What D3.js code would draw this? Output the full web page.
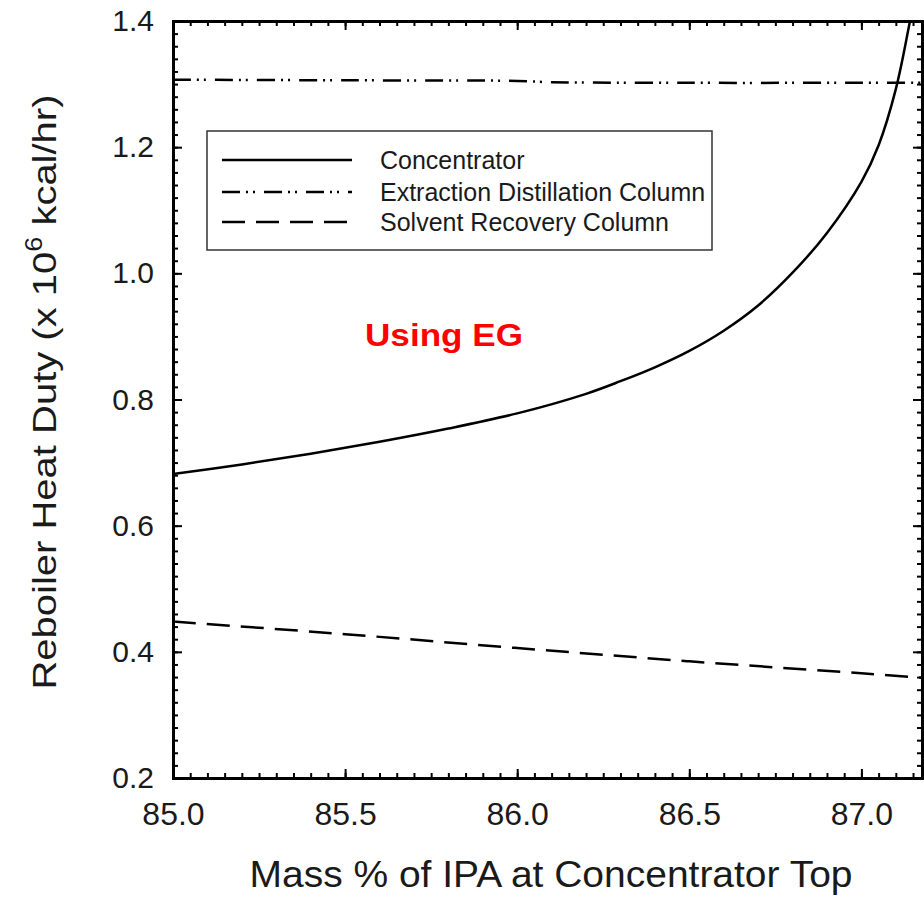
<!DOCTYPE html>
<html>
<head>
<meta charset="utf-8">
<script src="https://cdn.jsdelivr.net/npm/d3@7"></script>
<style>
  body { margin: 0; background: #fff; }
  svg { display: block; }
  text { font-family: "Liberation Sans", Arial, sans-serif; fill: #1a1a1a; }
</style>
</head>
<body>
<svg id="chart" width="924" height="897"></svg>
<script>
// data
var concX = [85.0, 85.2, 85.4, 85.6, 85.8, 86.0, 86.2, 86.3, 86.4, 86.5, 86.6, 86.7, 86.8, 86.9, 87.0, 87.05, 87.1, 87.14, 87.17];
var concY = [0.682, 0.697, 0.714, 0.733, 0.754, 0.778, 0.809, 0.829, 0.851, 0.877, 0.909, 0.949, 1.001, 1.064, 1.145, 1.203, 1.292, 1.397, 1.49];
var edcX = [85.0, 85.5, 86.0, 86.1, 86.5, 87.0, 87.2];
var edcY = [1.307, 1.306, 1.305, 1.303, 1.302, 1.302, 1.302];
var srcX = [85.0, 85.5, 86.0, 86.5, 87.0, 87.2];
var srcY = [0.448, 0.428, 0.406, 0.385, 0.366, 0.358];
var xTicks = [85.0, 85.5, 86.0, 86.5, 87.0];
var yTicks = [0.2, 0.4, 0.6, 0.8, 1.0, 1.2, 1.4];
var seriesNames = ["Concentrator", "Extraction Distillation Column", "Solvent Recovery Column"];

var svg = d3.select("#chart");
var plotL = 173, plotR = 922, plotT = 21, plotB = 778;

var x = d3.scaleLinear().domain([85, 85 + (plotR - plotL) / 344.2]).range([plotL, plotR]);
var y = d3.scaleLinear().domain([0.2, 1.4]).range([plotB, plotT]);

svg.append("clipPath").attr("id", "plotClip")
	.append("rect").attr("x", plotL).attr("y", plotT).attr("width", plotR - plotL).attr("height", plotB - plotT);

var dashes = ["none", "18,6,2,5,2,9", "23,11"];

var line = d3.line().curve(d3.curveCatmullRom.alpha(0.5));
var plot = svg.append("g").attr("clip-path", "url(#plotClip)");

function drawSeries(xs, ys, i){
	var pts = xs.map(function(v, k){ return [x(v), y(ys[k])]; });
	plot.append("path")
		.attr("d", line(pts))
		.attr("fill", "none")
		.attr("stroke", "#000")
		.attr("stroke-width", 2.5)
		.attr("stroke-dasharray", dashes[i]);
}
drawSeries(concX, concY, 0);
drawSeries(edcX, edcY, 1);
drawSeries(srcX, srcY, 2);

// axes - ticks point inward on all four sides
var xMinor = d3.range(85, 87.2, 0.05);
var yMinor = d3.range(0.2, 1.401, 0.02);

svg.append("g").attr("transform", "translate(0," + plotB + ")")
	.call(d3.axisBottom(x).tickValues(xMinor).tickSize(-5).tickFormat(""));
svg.append("g").attr("transform", "translate(0," + plotB + ")")
	.call(d3.axisBottom(x).tickValues(xTicks).tickSize(-9).tickPadding(24).tickFormat(d3.format(".1f")))
	.call(function(g){ g.selectAll("text").attr("font-size", 32).attr("font-family", "Liberation Sans, Arial").attr("fill", "#1a1a1a"); });
svg.append("g").attr("transform", "translate(0," + plotT + ")")
	.call(d3.axisTop(x).tickValues(xMinor).tickSize(-5).tickFormat(""));
svg.append("g").attr("transform", "translate(0," + plotT + ")")
	.call(d3.axisTop(x).tickValues(xTicks).tickSize(-9).tickFormat(""));

svg.append("g").attr("transform", "translate(" + plotL + ",0)")
	.call(d3.axisLeft(y).tickValues(yMinor).tickSize(-5).tickFormat(""));
svg.append("g").attr("transform", "translate(" + plotL + ",0)")
	.call(d3.axisLeft(y).tickValues(yTicks).tickSize(-9).tickPadding(19).tickFormat(d3.format(".1f")))
	.call(function(g){ g.selectAll("text").attr("font-size", 30).attr("font-family", "Liberation Sans, Arial").attr("fill", "#1a1a1a"); });
svg.append("g").attr("transform", "translate(" + plotR + ",0)")
	.call(d3.axisRight(y).tickValues(yMinor).tickSize(-5).tickFormat(""));
svg.append("g").attr("transform", "translate(" + plotR + ",0)")
	.call(d3.axisRight(y).tickValues(yTicks).tickSize(-9).tickFormat(""));

svg.selectAll(".domain").attr("stroke", "#000").attr("stroke-width", 3);
svg.selectAll(".tick line").attr("stroke", "#000").attr("stroke-width", 2);

// axis titles
svg.append("text")
	.attr("x", 551).attr("y", 887)
	.attr("text-anchor", "middle")
	.attr("font-size", 36)
	.attr("textLength", 603).attr("lengthAdjust", "spacingAndGlyphs")
	.text("Mass % of IPA at Concentrator Top");

var yt = svg.append("text")
	.attr("transform", "translate(56,392) rotate(-90)")
	.attr("text-anchor", "middle")
	.attr("font-size", 34)
	.attr("textLength", 595).attr("lengthAdjust", "spacingAndGlyphs");
yt.append("tspan").text("Reboiler Heat Duty (x 10");
yt.append("tspan").attr("font-size", 23).attr("dy", -14).text("6");
yt.append("tspan").attr("dy", 14).text(" kcal/hr)");

// legend
var lg = svg.append("g");
lg.append("rect")
	.attr("x", 207).attr("y", 131).attr("width", 505).attr("height", 119)
	.attr("fill", "#fff").attr("stroke", "#333").attr("stroke-width", 1.5);
var rows = [160, 192, 222];
seriesNames.forEach(function(name, i){
	lg.append("line")
		.attr("x1", 222).attr("x2", 352).attr("y1", rows[i]).attr("y2", rows[i])
		.attr("stroke", "#000").attr("stroke-width", 2.5)
		.attr("stroke-dasharray", dashes[i]);
	lg.append("text")
		.attr("x", 380).attr("y", rows[i] + 9)
		.attr("font-size", 25)
		.attr("fill", "#222")
		.text(name);
});

// annotation
svg.append("text")
	.attr("x", 444).attr("y", 346)
	.attr("text-anchor", "middle")
	.attr("font-family", "'Noto Sans', 'Open Sans', sans-serif")
	.attr("font-weight", "bold")
	.attr("font-size", 32)
	.attr("textLength", 158).attr("lengthAdjust", "spacingAndGlyphs")
	.style("fill", "#ff0000")
	.text("Using EG");
</script>
</body>
</html>
